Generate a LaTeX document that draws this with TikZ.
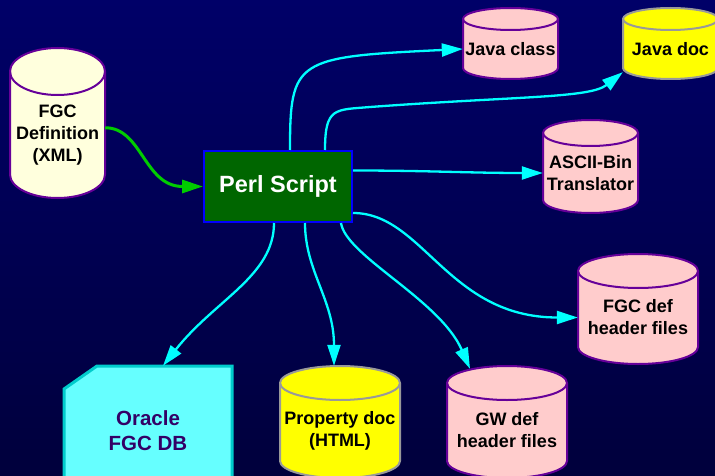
\documentclass[tikz,border=0pt]{standalone}
\usepackage{fontspec}
\setmainfont{Liberation Sans}
\usetikzlibrary{arrows.meta}

\definecolor{bgtop}{RGB}{0,0,104}
\definecolor{bgbottom}{RGB}{0,0,60}
\definecolor{drumpink}{RGB}{255,204,204}
\definecolor{drumline}{RGB}{102,0,153}
\definecolor{docyellow}{RGB}{255,255,0}
\definecolor{docline}{RGB}{153,153,153}
\definecolor{xmlcream}{RGB}{255,255,221}
\definecolor{perlgreen}{RGB}{0,102,0}
\definecolor{dbcyan}{RGB}{102,255,255}
\definecolor{dbline}{RGB}{0,204,204}
\definecolor{dbtext}{RGB}{51,0,102}
\definecolor{flowcyan}{RGB}{0,255,255}
\definecolor{flowgreen}{RGB}{0,204,0}

\tikzstyle{pinkdrum} = [fill=drumpink, draw=drumline, line width=2pt]
\tikzstyle{yellowdrum} = [fill=docyellow, draw=docline, line width=2pt]
\tikzstyle{xmldrum} = [fill=xmlcream, draw=drumline, line width=2pt]
\tikzstyle{drumtext} = [inner sep=0pt, align=center,
    font=\fontsize{18}{22}\selectfont\bfseries]
\tikzstyle{perlbox} = [draw=blue, fill=perlgreen, line width=2pt, text=white,
    minimum width=148, minimum height=71,
    font=\fontsize{23.5}{28}\selectfont\bfseries]
\tikzstyle{oracleshape} = [fill=dbcyan, draw=dbline, line width=3pt]
\tikzstyle{oracletext} = [inner sep=0pt, align=center, text=dbtext,
    minimum width=168, minimum height=130,
    font=\fontsize{20.5}{25}\selectfont\bfseries]
\tikzstyle{flow} = [color=flowcyan, line width=2.3pt,
    -{Triangle[length=21pt,width=13pt]}]
\tikzstyle{feed} = [flow, color=flowgreen, line width=3pt]

% name, left, top, width, height, cap radius, style, text
\def\drum#1#2#3#4#5#6#7#8{
    \path[#7] (#2,#3+#6) -- (#2,#3+#5-#6)
        arc[start angle=180, end angle=0, x radius=#4/2, y radius=#6]
        -- (#2+#4,#3+#6)
        arc[start angle=0, end angle=-180, x radius=#4/2, y radius=#6] -- cycle;
    \draw[#7, fill=none] (#2,#3+#6)
        arc[start angle=180, end angle=0, x radius=#4/2, y radius=#6];
    \node[drumtext, minimum width=#4, minimum height=#5-#6] (#1)
        at (#2+#4/2,#3+#5/2+#6/2) {#8};
}

\begin{document}
\begin{tikzpicture}[x=1pt,y=-1pt]
\useasboundingbox (0,0) rectangle (715,476);
\clip (0,0) rectangle (715,476);
\shade[top color=bgtop, bottom color=bgbottom] (0,0) rectangle (715,476);

\drum{fgcdef}{10}{48}{95}{150}{23.5}{xmldrum}{FGC\\Definition\\(XML)}
\drum{javaclass}{463}{8}{95}{71}{11}{pinkdrum}{Java class}
\drum{javadoc}{623}{8}{95}{71}{11}{yellowdrum}{Java doc}
\drum{asciibin}{543}{120}{95}{93}{13}{pinkdrum}{ASCII-Bin\\Translator}
\drum{fgchdr}{578}{254}{120}{110}{17}{pinkdrum}{FGC def\\header files}
\drum{gwhdr}{447}{366}{120}{112}{17}{pinkdrum}{GW def\\header files}
\drum{propdoc}{280}{366}{120}{112}{17}{yellowdrum}{Property doc\\(HTML)}

\path[oracleshape] (97,366) -- (232,366) -- (232,496) -- (64,496) -- (64,389) -- cycle;
\node[oracletext] (oracle) at (148,431) {Oracle\\FGC DB};

\node[perlbox] (perl) at (278,186.5) {Perl Script};

\draw[feed] ([yshift=7pt]fgcdef.east) .. controls +(37,0) and +(-59,0) .. (perl.west);

\draw[flow] ([xshift=12pt]perl.north) .. controls +(0,-91) and +(-167,8) .. (javaclass.west);
\draw[flow] ([xshift=47pt]perl.north) .. controls +(0,-43) and +(-35,3) .. (370,107)
    .. controls +(150,-11) and +(-33,26) .. ([yshift=7pt]javadoc.south west);
\draw[flow] ([yshift=16pt]perl.east) to[out=0,in=180] (asciibin.west);
\draw[flow] ([yshift=-26.5pt]perl.east) .. controls +(70,0) and +(-130,0) .. (fgchdr.west);
\draw[flow] ([xshift=-12pt]perl.south east) .. controls +(5,33) and +(-30,-69)
    .. ([shift={(-37pt,14pt)}]gwhdr.north);
\draw[flow] ([xshift=27pt]perl.south) .. controls +(0,48) and +(0,-66)
    .. ([shift={(-6pt,17pt)}]propdoc.north);
\draw[flow] ([xshift=-4pt]perl.south) .. controls +(0,53) and +(52,-66)
    .. ([xshift=15pt]oracle.north);
\end{tikzpicture}
\end{document}
